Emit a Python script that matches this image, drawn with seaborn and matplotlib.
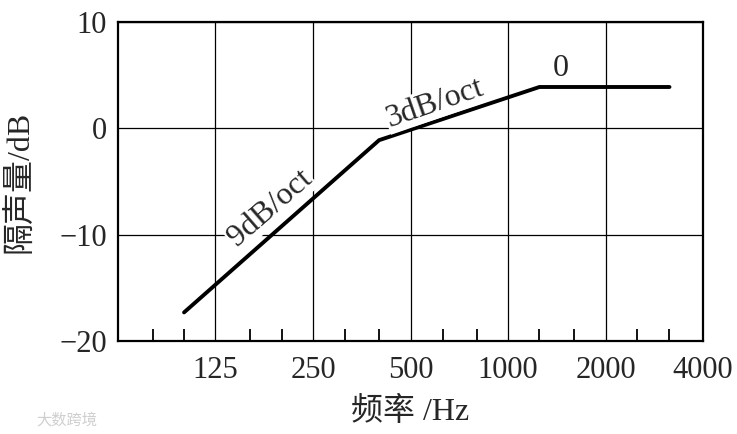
import matplotlib
matplotlib.use("Agg")
import matplotlib.pyplot as plt
import matplotlib.ticker as mticker
import pandas as pd
import seaborn as sns

# breakpoints of the curve
freq_hz = [100, 400, 1250, 3150]
level_db = [-17.3, -1.1, 3.9, 3.9]

major_freqs = [125, 250, 500, 1000, 2000, 4000]
major_labels = ["125", "250", "500", "1000", "2000", "4000"]
third_octave_freqs = [80, 100, 160, 200, 315, 400, 630, 800, 1250, 1600, 2500, 3150]
y_ticks = [-20, -10, 0, 10]

slope_labels = ["9dB/oct", "3dB/oct", "0"]
slope_label_freq = [184, 595, 1450]
slope_label_db = [-7.5, 2.4, 5.6]
slope_label_rot = [41, 19, 0]

sns.set_style("white")
plt.rcParams["font.family"] = ["Liberation Serif", "Noto Sans CJK SC"]
plt.rcParams["axes.unicode_minus"] = True

fig = plt.figure(figsize=(7.37, 4.34), dpi=100)
ax = fig.add_axes([0.160, 0.214, 0.794, 0.735])

df = pd.DataFrame({"freq": freq_hz, "level": level_db})
sns.lineplot(data=df, x="freq", y="level", ax=ax, color="black", linewidth=2.8,
             solid_joinstyle="miter", zorder=3)

ax.set_xscale("log", base=2)
ax.set_xlim(62.5, 4000)
ax.set_ylim(-20, 10)

ax.xaxis.set_major_locator(mticker.FixedLocator(major_freqs))
ax.xaxis.set_major_formatter(mticker.FixedFormatter(major_labels))
ax.xaxis.set_minor_locator(mticker.FixedLocator(third_octave_freqs))
ax.xaxis.set_minor_formatter(mticker.NullFormatter())
ax.set_yticks(y_ticks)

ax.tick_params(axis="x", which="major", length=0, pad=11, labelsize=22)
ax.tick_params(axis="x", which="minor", direction="in", length=9, width=1.3,
               bottom=True, top=False, color="black")
ax.tick_params(axis="y", which="major", length=0, pad=8, labelsize=22)

ax.grid(True, which="major", color="black", linewidth=0.9)
for s in ax.spines.values():
    s.set_visible(True)
    s.set_color("black")
    s.set_linewidth(1.6)

for txt, fx, fy, rot in zip(slope_labels, slope_label_freq, slope_label_db, slope_label_rot):
    ax.text(fx, fy, txt, fontsize=23, rotation=rot, rotation_mode="anchor",
            ha="center", va="center", zorder=4,
            bbox=dict(facecolor="white", edgecolor="none", pad=1))

ax.set_xlabel("频率 /Hz", fontsize=23, labelpad=8)
ax.set_ylabel("隔声量/dB", fontsize=23, labelpad=17)

fig.text(0.05, 0.032, "大数跨境", fontsize=11, color="#cfcfcf", va="center",
         family=["Noto Sans CJK SC"])

fig.savefig("out.png", dpi=100)
